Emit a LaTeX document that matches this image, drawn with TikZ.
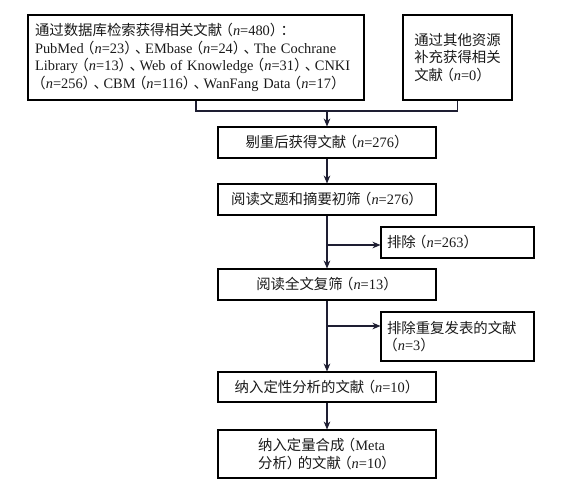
\documentclass[tikz,border=0pt]{standalone}
\usepackage{fontspec}
\setmainfont{Liberation Serif}
\newfontfamily\cjk{Noto Sans CJK SC}
\usetikzlibrary{arrows.meta}
\newcommand\nv{\textit{n}}
\newcommand\zh[1]{{\cjk #1}}
\newcommand\lp{\hspace{-0.25em}\zh{（}}
\newcommand\rp{\zh{）}\hspace{-0.25em}}
\newcommand\dn{\zh{、}\hspace{-0.3em}}
\definecolor{ink}{RGB}{30,30,50}
\definecolor{txt}{RGB}{25,25,25}
\tikzset{
  box/.style={draw=black, line width=0.8pt, rectangle, inner sep=0pt, text=txt,
    font=\fontsize{10.8}{13.2}\selectfont},
  conn/.style={draw=ink, line width=0.8pt},
  arr/.style={conn, -{Stealth[length=6pt,width=5pt]}}
}
\begin{document}
\begin{tikzpicture}[x=0.75pt,y=-0.75pt]
\useasboundingbox (0,0) rectangle (567,483);
\node[box, minimum width=336*0.75pt, minimum height=85*0.75pt, text width=322*0.75pt, align=left] (b1) at (196,57.5)
 {\zh{通过数据库检索获得相关文献}\lp\nv=480\rp\zh{：}\\
  PubMed\lp\nv=23\rp\dn EMbase\lp\nv=24\rp\dn The Cochrane\\
  Library\lp\nv=13\rp\dn Web of Knowledge\lp\nv=31\rp\dn CNKI\\
  \hspace{-0.25em}\zh{（}\nv=256\rp\dn CBM\lp\nv=116\rp\dn WanFang Data\lp\nv=17\rp};
\node[box, minimum width=109*0.75pt, minimum height=85*0.75pt, align=left] (b2) at (457.5,57.5)
 {\zh{通过其他资源}\\\zh{补充获得相关}\\\zh{文献}\lp\nv=0\rp};
\node[box, minimum width=218*0.75pt, minimum height=31*0.75pt] (b3) at (327,142.5)
 {\zh{剔重后获得文献}\lp\nv=276\rp};
\node[box, minimum width=218*0.75pt, minimum height=31*0.75pt] (b4) at (327,199.5)
 {\zh{阅读文题和摘要初筛}\lp\nv=276\rp};
\node[box, minimum width=218*0.75pt, minimum height=31*0.75pt] (b5) at (327,284.5)
 {\zh{阅读全文复筛}\lp\nv=13\rp};
\node[box, minimum width=218*0.75pt, minimum height=30*0.75pt] (b6) at (327,387)
 {\zh{纳入定性分析的文献}\lp\nv=10\rp};
\node[box, minimum width=218*0.75pt, minimum height=48*0.75pt, align=left] (b7) at (327,454)
 {\zh{纳入定量合成}\lp Meta\\\zh{分析}\rp\zh{的文献}\lp\nv=10\rp};
\node[box, minimum width=153*0.75pt, minimum height=31*0.75pt, text width=141*0.75pt, align=left] (e1) at (457.5,242.5)
 {\zh{排除}\lp\nv=263\rp};
\node[box, minimum width=153*0.75pt, minimum height=49*0.75pt, text width=141*0.75pt, align=left] (e2) at (457.5,336.5)
 {\zh{排除重复发表的文献}\\\hspace{-0.25em}\zh{（}\nv=3\rp};
\coordinate (m) at (327,111);
\coordinate (j1) at (327,245);
\coordinate (j2) at (327,326);
\draw[conn] (b1.south) -- (b1.south |- m) -- (b2.south |- m) -- (b2.south);
\draw[arr] (m) -- (b3.north);
\draw[arr] (b3.south) -- (b4.north);
\draw[arr] (b4.south) -- (b5.north);
\draw[arr] (j1) -- (j1 -| e1.west);
\draw[arr] (b5.south) -- (b6.north);
\draw[arr] (j2) -- (j2 -| e2.west);
\draw[arr] (b6.south) -- (b7.north);
\end{tikzpicture}
\end{document}
